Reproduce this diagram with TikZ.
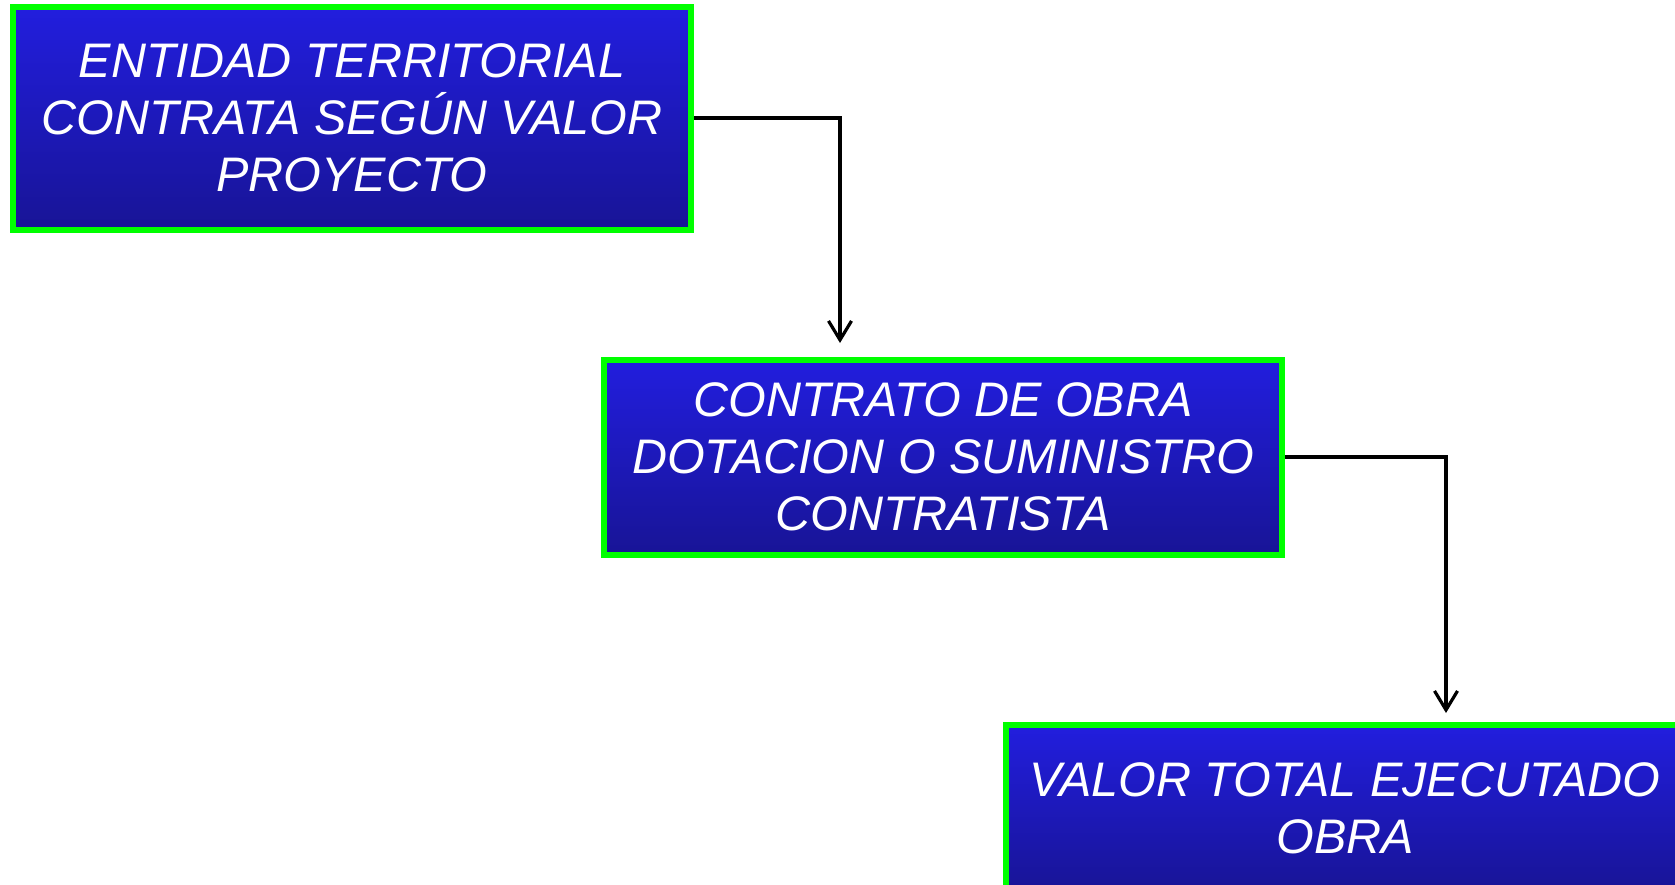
\documentclass[tikz,border=0pt]{standalone}
\usepackage{fontspec}
\setmainfont{Liberation Sans}
\definecolor{mygreen}{RGB}{0,255,0}
\definecolor{myblue}{RGB}{34,30,222}
\definecolor{mydarkblue}{RGB}{24,20,150}
\usetikzlibrary{arrows.meta,positioning,calc}

\begin{document}
\begin{tikzpicture}[
  x=1pt, y=-1pt,
  mybox/.style={
    draw=mygreen,
    line width=6pt,
    top color=myblue,
    bottom color=mydarkblue,
    minimum width=678pt,
    minimum height=#1,
    inner sep=0pt,
    text=white,
    align=center,
    font=\fontsize{48.5}{57}\selectfont\itshape
    },
  myarrow/.style={
    line width=3.2pt,
    -{Straight Barb[length=19pt,width=23pt]}
    }
]
\useasboundingbox (0,0) rectangle (1675,884);

\node[mybox=223pt] (entidad) at (352,118)
  {ENTIDAD TERRITORIAL\\CONTRATA SEGÚN VALOR\\PROYECTO};

\node[mybox=195pt] (contrato) at (943,457)
  {CONTRATO DE OBRA\\DOTACION O SUMINISTRO\\CONTRATISTA};

\node[mybox=166pt] (obra) at (1345,808)
  {VALOR TOTAL EJECUTADO\\OBRA};

% connectors
\coordinate (tip1) at (840,343);
\coordinate (tip2) at (1446,713);
\draw[myarrow] (entidad.east) -| (tip1);
\draw[myarrow] (contrato.east) -| (tip2);
\end{tikzpicture}
\end{document}
